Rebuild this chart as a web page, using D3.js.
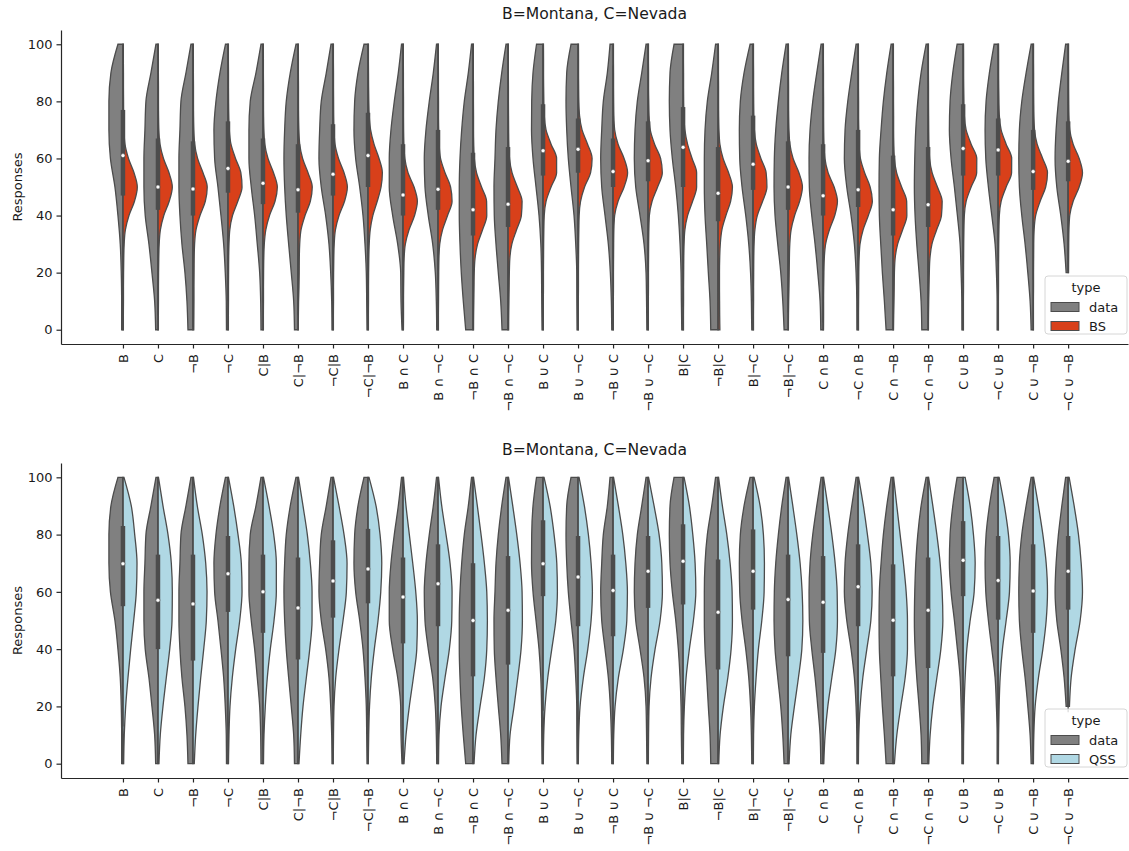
<!DOCTYPE html>
<html>
<head>
<meta charset="utf-8">
<script src="https://cdn.jsdelivr.net/npm/d3@7"></script>
<style>
  body { margin: 0; background: #fff; }
  text { font-family: "DejaVu Sans", sans-serif; fill: #1a1a1a; }
</style>
</head>
<body>
<div id="chart"></div>
<script>
// ---- data ----
const categories = [
  "B", "C", "¬B", "¬C", "C|B", "C|¬B", "¬C|B", "¬C|¬B",
  "B ∩ C", "B ∩ ¬C", "¬B ∩ C", "¬B ∩ ¬C", "B ∪ C", "B ∪ ¬C", "¬B ∪ C", "¬B ∪ ¬C",
  "B|C", "¬B|C", "B|¬C", "¬B|¬C", "C ∩ B", "¬C ∩ B", "C ∩ ¬B", "¬C ∩ ¬B",
  "C ∪ B", "¬C ∪ B", "C ∪ ¬B", "¬C ∪ ¬B"
];
const yTicks = [0, 20, 40, 60, 80, 100];
const levels10 = [0, 10, 20, 30, 40, 50, 60, 70, 80, 90, 100];
const levels5 = [0, 5, 10, 15, 20, 25, 30, 35, 40, 45, 50, 55, 60, 65, 70, 75, 80, 85, 90, 95, 100];

// density (half width) of the "data" responses at levels10
const dataDensity = [
  [1.3, 1.3, 1.7, 2.7, 5, 8, 12.5, 14, 14, 12, 5],
  [2.3, 3.3, 6, 9, 12.7, 14, 14, 13, 12, 7, 2],
  [5, 6, 8, 11, 13, 14, 14, 13, 12, 7, 2],
  [1.5, 1.7, 2.7, 4.3, 7, 10, 13.3, 14, 12, 8, 2.5],
  [2, 2.3, 3.3, 5.7, 8.3, 11.7, 14, 14, 12.7, 7, 2],
  [3.5, 4.3, 6.7, 9.3, 11.7, 13.3, 14, 13.3, 11.7, 7.7, 2],
  [1, 1.3, 2.3, 4, 7.3, 11.7, 14, 13.3, 11.7, 6.7, 2],
  [1, 1.3, 1.7, 3, 5, 8.3, 12.3, 14, 13.3, 10, 4],
  [1, 2, 2.3, 5.3, 10.3, 13.7, 13.7, 12, 8.7, 4.7, 1.5],
  [1.3, 1.7, 2.7, 5.3, 9.7, 13, 13.7, 12, 8.7, 4.7, 1.5],
  [7.3, 9.7, 11.7, 13, 13.7, 13.7, 13, 11.3, 8.7, 4.7, 1.5],
  [6, 7.3, 9.7, 12, 13.7, 14, 13, 12, 9.7, 6.3, 2],
  [1, 1.3, 1.5, 2.2, 4, 7, 10, 11.5, 11.3, 10, 6.5],
  [1, 1.2, 1.3, 2.3, 4, 7, 9.7, 11.3, 12, 11.3, 7],
  [1.3, 1.7, 2.7, 4.7, 8, 11.3, 12.3, 11.3, 9.7, 5.7, 3],
  [1.2, 1.5, 2, 4, 8, 12.3, 13.7, 13, 10.7, 6.3, 2],
  [1.3, 1.7, 2, 3, 4.7, 7.3, 10.7, 13, 13.7, 13, 9],
  [7.3, 8, 9.7, 11.3, 13, 13.7, 13.7, 13, 10.7, 6.3, 2.5],
  [1.3, 1.7, 2.5, 4.3, 7.3, 11, 13.3, 13.7, 12.7, 9, 3],
  [4, 5.3, 7.3, 10.3, 13, 14, 13.7, 12.3, 9.7, 6.3, 2],
  [2.3, 3, 5.3, 8, 11.3, 13.7, 14, 13, 10.3, 6.3, 2],
  [1.2, 1.3, 2, 3.7, 7, 11.3, 13.7, 13, 10.3, 6.3, 2],
  [7, 8.7, 10.7, 12.3, 13.7, 14, 13.7, 12, 9.7, 6.3, 2],
  [6.3, 7, 9, 11.3, 13, 13.7, 13.3, 12.3, 10.3, 7, 2],
  [1.2, 1.3, 2, 3, 5.7, 8.7, 12, 13.7, 13, 10.3, 6],
  [1, 1, 1.7, 3, 6.3, 9.7, 12.3, 13, 12, 8.7, 4],
  [2, 3, 5.3, 8, 11.3, 13.7, 14.3, 13.7, 11.3, 7, 2],
  [null, null, 2, 4, 7.3, 11.3, 13, 12, 9.7, 6.3, 2.5]
];

// density of the BS model at levels5
const bsDensity = [
  [0.4, 0.4, 0.5, 0.5, 0.6, 0.8, 1.2, 2.4, 6, 11.5, 14.3, 11, 5.5, 2, 1, 0.7, 0.6, 0.5, 0.5, 0.4, 0.4],
  [0.4, 0.4, 0.5, 0.5, 0.6, 0.8, 1.2, 2.4, 5.8, 11.2, 14.3, 11, 5.5, 2, 0.9, 0.6, 0.5, 0.5, 0.4, 0.4, 0.3],
  [0.8, 0.9, 1, 1, 1.1, 1.2, 1.6, 3, 7, 12.3, 14.2, 10, 4.6, 1.7, 0.9, 0.6, 0.5, 0.5, 0.4, 0.4, 0.3],
  [0.4, 0.4, 0.5, 0.5, 0.6, 0.7, 1, 1.8, 4.5, 9.8, 14, 12.8, 7.5, 3, 1.3, 0.8, 0.6, 0.5, 0.5, 0.4, 0.4],
  [0.4, 0.4, 0.5, 0.5, 0.6, 0.8, 1.3, 2.8, 6.5, 12, 14.3, 10.5, 5, 1.8, 0.9, 0.6, 0.5, 0.5, 0.4, 0.4, 0.3],
  [0.3, 0.4, 0.6, 1, 1.2, 1.3, 1.7, 3, 7, 12.3, 14.2, 10, 4.6, 1.7, 0.9, 0.6, 0.5, 0.5, 0.4, 0.4, 0.3],
  [0.4, 0.4, 0.5, 0.5, 0.6, 0.8, 1.2, 2.4, 6, 11.5, 14.3, 11, 5.5, 2, 1, 0.7, 0.6, 0.5, 0.5, 0.4, 0.4],
  [0.4, 0.4, 0.5, 0.5, 0.6, 0.8, 1.2, 2.2, 4.8, 9.2, 13, 14.3, 11, 6, 2.6, 1.2, 0.8, 0.6, 0.5, 0.4, 0.4],
  [0.4, 0.5, 0.5, 0.6, 0.8, 1.1, 2.3, 6, 11.5, 14.3, 11, 5, 1.8, 0.9, 0.6, 0.5, 0.5, 0.4, 0.4, 0.3, 0.3],
  [0.4, 0.4, 0.5, 0.6, 0.7, 0.9, 1.7, 4.5, 9.5, 14, 12.5, 7, 2.5, 1.1, 0.7, 0.5, 0.5, 0.4, 0.4, 0.3, 0.3],
  [0.5, 0.6, 0.8, 1, 1.2, 2, 4.5, 9.5, 13.7, 13.5, 8.5, 3.5, 1.3, 0.7, 0.5, 0.5, 0.4, 0.4, 0.3, 0.3, 0.3],
  [0.6, 0.7, 0.9, 1.1, 1.3, 1.8, 3.8, 8.5, 13.3, 14, 9.3, 4, 1.5, 0.8, 0.6, 0.5, 0.4, 0.4, 0.3, 0.3, 0.3],
  [0.3, 0.3, 0.3, 0.4, 0.4, 0.5, 0.6, 0.8, 1.2, 3, 8, 13.5, 13.5, 8, 3, 1.2, 0.8, 0.6, 0.5, 0.5, 0.4],
  [0.3, 0.3, 0.3, 0.4, 0.4, 0.5, 0.6, 0.8, 1.1, 2.5, 6.5, 12.5, 14, 9.5, 4, 1.5, 0.8, 0.6, 0.5, 0.5, 0.4],
  [0.3, 0.3, 0.3, 0.4, 0.4, 0.5, 0.6, 0.8, 1.6, 5, 11, 14.5, 11, 5, 1.6, 0.8, 0.6, 0.5, 0.5, 0.4, 0.4],
  [0.3, 0.3, 0.3, 0.4, 0.4, 0.5, 0.6, 0.8, 1.3, 4, 9.5, 14.2, 12.5, 6.5, 2.2, 1, 0.7, 0.5, 0.5, 0.4, 0.4],
  [0.4, 0.4, 0.5, 0.5, 0.6, 0.7, 1, 1.8, 4.5, 9.5, 13.5, 13.5, 9, 4.5, 1.8, 0.9, 0.6, 0.5, 0.5, 0.4, 0.4],
  [1.8, 1.6, 1.5, 1.4, 1.4, 1.6, 2.2, 3.8, 7.8, 12.5, 14.3, 10.5, 5, 1.8, 0.9, 0.6, 0.5, 0.5, 0.4, 0.4, 0.3],
  [0.4, 0.4, 0.5, 0.5, 0.6, 0.7, 1, 1.8, 4.2, 9.5, 13.8, 13, 7.8, 3.2, 1.3, 0.8, 0.6, 0.5, 0.5, 0.4, 0.4],
  [0.3, 0.4, 0.6, 0.9, 1.1, 1.3, 1.7, 3, 6.5, 11.5, 14.3, 10.8, 5, 1.8, 0.9, 0.6, 0.5, 0.5, 0.4, 0.4, 0.3],
  [0.4, 0.5, 0.5, 0.6, 0.8, 1.2, 2.5, 6.3, 11.6, 14.3, 11, 5, 1.8, 0.9, 0.6, 0.5, 0.5, 0.4, 0.4, 0.3, 0.3],
  [0.4, 0.4, 0.5, 0.6, 0.7, 1, 1.9, 5, 10.2, 14.2, 12, 6.5, 2.3, 1, 0.7, 0.5, 0.5, 0.4, 0.4, 0.3, 0.3],
  [0.4, 0.6, 0.9, 1.1, 1.3, 2, 4.5, 9.5, 13.7, 13.5, 8.5, 3.5, 1.3, 0.7, 0.5, 0.5, 0.4, 0.4, 0.3, 0.3, 0.3],
  [0.3, 0.4, 0.6, 0.9, 1.2, 1.8, 3.8, 8.5, 13.3, 14, 9.3, 4, 1.5, 0.8, 0.6, 0.5, 0.4, 0.4, 0.3, 0.3, 0.3],
  [0.3, 0.3, 0.3, 0.4, 0.4, 0.5, 0.6, 0.8, 1.2, 3, 8, 13.5, 13.6, 8, 3, 1.2, 0.8, 0.6, 0.5, 0.5, 0.4],
  [0.3, 0.3, 0.3, 0.4, 0.4, 0.5, 0.6, 0.8, 1.2, 3, 8, 13.4, 13.5, 8, 3, 1.2, 0.8, 0.6, 0.5, 0.5, 0.4],
  [0.3, 0.3, 0.3, 0.4, 0.4, 0.5, 0.6, 1, 2.5, 7, 12.5, 14.3, 9.5, 4, 1.4, 0.8, 0.6, 0.5, 0.5, 0.4, 0.4],
  [null, null, null, null, 0.4, 0.5, 0.6, 0.8, 1.6, 5, 11, 14.3, 11, 5, 1.6, 0.8, 0.6, 0.5, 0.5, 0.4, 0.4]
];

// density of the QSS model at levels10
const qssDensity = [
  [0.7, 1.3, 2.7, 5, 7.7, 10.7, 13.3, 14, 11.7, 8.3, 1],
  [1, 2.3, 5, 8.3, 11.7, 14, 14.3, 13.3, 10, 5, 0.5],
  [1.3, 2.7, 5, 7.7, 10.7, 13.3, 14, 12.7, 9.3, 4.3, 0.5],
  [0.5, 1, 2, 4.3, 7.7, 11.7, 14, 13.3, 10, 5.7, 0.5],
  [0.5, 1, 2.3, 4.3, 7.3, 11, 13.3, 13.3, 10.7, 6, 0.5],
  [1, 2.7, 5, 8.3, 11.7, 14, 14, 12.3, 9.3, 5, 0.5],
  [0.3, 0.5, 1, 2.7, 6, 10, 13.3, 14, 11, 6, 0.5],
  [0.3, 0.7, 1.5, 3.3, 6.3, 10, 12.7, 13.7, 12, 8, 1],
  [1, 3, 6.3, 10.3, 13.7, 14.3, 12.7, 9.7, 6.3, 3, 0.5],
  [0.5, 1, 3, 7, 11.3, 13.7, 14, 12, 8, 3.7, 0.5],
  [1, 3, 7, 11.3, 13.7, 14.3, 13.7, 11.3, 8, 4.3, 0.5],
  [0.7, 2, 6, 9.7, 13, 14.3, 14, 12, 8.7, 4.7, 0.5],
  [0.3, 0.7, 2, 4.7, 8.7, 12.7, 14.3, 13.7, 11, 7, 1],
  [0.3, 0.7, 2, 5.3, 9.7, 13, 14.3, 13, 10.3, 6.3, 1],
  [0.3, 0.7, 2, 5.3, 10.3, 13.7, 14.3, 12.7, 9.7, 5.3, 0.5],
  [0.3, 0.5, 1, 3, 7, 12, 14.3, 13.7, 11, 6, 0.5],
  [0.3, 0.5, 1.3, 3, 6.3, 10.3, 12.7, 12, 9.7, 6.3, 1],
  [0.7, 2, 5.3, 9.7, 13, 14.3, 14, 12, 8.7, 4.3, 0.5],
  [0.3, 0.5, 1.3, 3, 5.3, 8.7, 11, 11.3, 10.3, 7, 1],
  [1, 2.7, 6.3, 10.3, 13.7, 14.7, 14, 12, 8.7, 4.7, 0.5],
  [0.7, 2, 4.7, 8.7, 12.7, 14.3, 14, 12, 8.7, 4.7, 0.5],
  [0.3, 0.7, 2, 4.7, 8.7, 12.7, 14, 12.7, 9.3, 5.3, 0.5],
  [1.3, 3.7, 7.7, 12, 14.3, 14.3, 13, 10.3, 7, 3.7, 0.5],
  [0.7, 2, 4.7, 8.7, 12.7, 14.7, 14, 12, 8.7, 4.7, 0.5],
  [0.3, 0.5, 1, 2, 3.7, 7, 11, 12, 10.3, 7, 2],
  [0.3, 0.5, 1, 2, 4.3, 8, 11.3, 12, 10.3, 6.3, 1],
  [0.3, 0.7, 2, 5.3, 9.7, 13, 14.3, 13, 9.7, 5.3, 0.5],
  [null, null, 1.3, 3, 7, 12, 14.3, 13, 10.3, 6, 1]
];

// inner boxes of the pooled responses: [whisker low, q1, median, q3, whisker high]
const boxBS = [
  [2, 47, 61, 77, 100], [5, 42, 50, 67, 100], [1, 40, 49.3, 66, 100], [10, 48, 56.5, 73, 100],
  [9.5, 44, 51.3, 67, 100], [5, 41, 49, 65, 100], [9.5, 47, 54.5, 72, 100], [11, 50, 61, 76, 100],
  [2.5, 40, 47.2, 65, 100], [0, 42, 49.2, 70, 100], [0, 33, 42, 62, 100], [0, 36, 44, 64, 100],
  [16.5, 54, 62.7, 79, 100], [26.5, 55, 63.2, 74, 100], [24.5, 50, 55.4, 67, 92.5], [20.5, 52, 59.2, 73, 100],
  [8, 50, 63.9, 78, 100], [0, 38, 47.8, 64, 100], [10, 49, 58, 75, 100], [6, 42, 50, 66, 100],
  [2.5, 40, 46.9, 65, 100], [2.5, 43, 49, 70, 100], [0, 33, 42, 61, 100], [0, 36, 43.8, 64, 100],
  [16.5, 54, 63.5, 79, 100], [24, 54, 63, 74, 100], [17.5, 49, 55.4, 70, 100], [20.5, 52, 59, 73, 100]
];
const boxQSS = [
  [13, 55, 69.8, 83, 100], [0, 40, 57.1, 73, 100], [0, 36, 55.8, 73, 100], [13, 53, 66.3, 79.5, 100],
  [5, 45.7, 60, 73, 100], [0, 36.4, 54.4, 72, 100], [11, 51, 63.8, 78, 100], [17, 56, 68, 82, 100],
  [0, 42, 58.2, 72, 100], [5, 48, 62.8, 76.6, 100], [0, 30.5, 50, 70, 100], [0, 34.6, 53.6, 72.5, 100],
  [18.5, 58.5, 69.8, 85, 100], [1, 48, 65.2, 79.5, 100], [1.5, 44.5, 60.5, 73, 100], [17, 54.4, 67.2, 79.5, 100],
  [13.6, 55.6, 70.7, 83.6, 100], [0, 32.9, 52.9, 71.3, 100], [12, 53.8, 67.2, 81.8, 100], [0, 37.5, 57.3, 73, 100],
  [0, 38.7, 56.4, 72.5, 100], [5, 48, 61.8, 76.6, 100], [0, 30.5, 50.1, 69.6, 100], [0, 33.4, 53.6, 72, 100],
  [19.5, 58.5, 71, 84.7, 100], [6, 50.3, 64, 79.5, 100], [0, 45.7, 60.3, 76.6, 100], [18, 53.8, 67.2, 79.5, 100]
];

// ---- drawing ----
const width = 1129, height = 851;
const lineColor = "#4c4c4c";
const svg = d3.select("#chart").append("svg")
  .attr("width", width).attr("height", height);

const x = d3.scaleLinear().domain([-1.77, 28.71]).range([61, 1128]);
const step = x(1) - x(0);
const w = d3.scaleLinear().domain([0, 14.3]).range([0, step * 0.41]);

function profile(levels, dens) {
  return levels.map((v, i) => ({ v: v, d: dens[i] })).filter(p => p.d !== null);
}

function drawPanel(cfg) {
  const y = d3.scaleLinear().domain([-5, 105]).range([cfg.bottom, cfg.top]);
  const g = svg.append("g");

  // axes (left and bottom spines only)
  g.append("g")
    .attr("transform", `translate(0,${cfg.bottom})`)
    .call(d3.axisBottom(x).tickValues(d3.range(categories.length))
      .tickFormat(i => categories[i]).tickSize(4.5).tickSizeOuter(0).tickPadding(3))
    .call(a => a.selectAll("text")
      .attr("transform", "rotate(-90)")
      .attr("text-anchor", "end")
      .attr("x", -10).attr("y", 0).attr("dy", "0.35em")
      .style("font-size", "13px"));

  g.append("g")
    .attr("transform", `translate(${x.range()[0]},0)`)
    .call(d3.axisLeft(y).tickValues(yTicks).tickSize(4.5).tickSizeOuter(0).tickPadding(4))
    .call(a => a.selectAll("text").style("font-size", "13px"));

  g.selectAll(".domain, .tick line").attr("stroke", "#262626").attr("stroke-width", 1.2);

  g.append("text")
    .attr("transform", `translate(17,${(cfg.top + cfg.bottom) / 2}) rotate(-90)`)
    .attr("text-anchor", "middle").attr("dy", "0.35em")
    .style("font-size", "13px").text("Responses");

  g.append("text")
    .attr("x", (x.range()[0] + x.range()[1]) / 2).attr("y", cfg.titleY)
    .attr("text-anchor", "middle").style("font-size", "15.6px")
    .text("B=Montana, C=Nevada");

  // split violins with inner box
  categories.forEach((c, i) => {
    const cx = x(i);
    const left = d3.area().curve(d3.curveMonotoneY)
      .y(d => y(d.v)).x0(cx).x1(d => cx - w(d.d));
    const right = d3.area().curve(d3.curveMonotoneY)
      .y(d => y(d.v)).x0(cx).x1(d => cx + w(d.d));

    g.append("path")
      .attr("d", left(profile(levels10, dataDensity[i])))
      .attr("fill", "#808080").attr("stroke", lineColor).attr("stroke-width", 1.3);
    g.append("path")
      .attr("d", right(profile(cfg.levels, cfg.density[i])))
      .attr("fill", cfg.color).attr("stroke", lineColor).attr("stroke-width", 1.3);

    const [lo, q1, med, q3, hi] = cfg.box[i];
    g.append("line")
      .attr("x1", cx).attr("x2", cx).attr("y1", y(lo)).attr("y2", y(hi))
      .attr("stroke", lineColor).attr("stroke-width", 1.3);
    g.append("line")
      .attr("x1", cx).attr("x2", cx).attr("y1", y(q1)).attr("y2", y(q3))
      .attr("stroke", lineColor).attr("stroke-width", 4.5);
    g.append("circle")
      .attr("cx", cx).attr("cy", y(med)).attr("r", 2)
      .attr("fill", "#fff").attr("stroke", lineColor).attr("stroke-width", 0.5);
  });

  // legend
  const lg = g.append("g").attr("transform", `translate(1045,${cfg.legendTop})`);
  lg.append("rect")
    .attr("width", 82).attr("height", 58).attr("rx", 3)
    .attr("fill", "#fff").attr("fill-opacity", 0.8)
    .attr("stroke", "#d6d6d6").attr("stroke-width", 1);
  lg.append("text").attr("x", 41).attr("y", 11).attr("dy", "0.35em")
    .attr("text-anchor", "middle").style("font-size", "13px").text("type");
  [["data", "#808080"], [cfg.label, cfg.color]].forEach(([name, col], k) => {
    const ry = 31 + k * 19;
    lg.append("rect")
      .attr("x", 6).attr("y", ry - 4.5).attr("width", 28).attr("height", 9)
      .attr("fill", col).attr("stroke", lineColor).attr("stroke-width", 1);
    lg.append("text").attr("x", 44).attr("y", ry).attr("dy", "0.35em")
      .style("font-size", "13px").text(name);
  });
}

drawPanel({ top: 30, bottom: 344, titleY: 18.5, levels: levels5, density: bsDensity,
  box: boxBS, color: "#d8401a", label: "BS", legendTop: 276 });
drawPanel({ top: 463, bottom: 778, titleY: 455, levels: levels10, density: qssDensity,
  box: boxQSS, color: "#b0d8e4", label: "QSS", legendTop: 709 });
</script>
</body>
</html>
